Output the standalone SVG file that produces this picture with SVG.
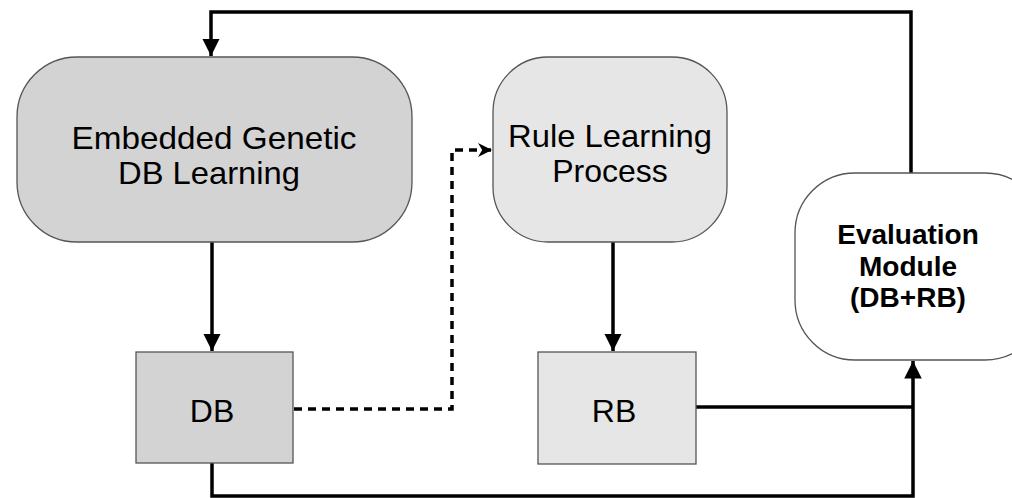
<svg xmlns="http://www.w3.org/2000/svg" width="1012" height="498" viewBox="0 0 1012 498">
<style>
.node{stroke:#555;stroke-width:1.3}
.t{font-family:"Liberation Sans",Arial,sans-serif;fill:#000;text-anchor:middle}
.c{fill:none;stroke:#000;stroke-width:3.5}
.d{fill:none;stroke:#000;stroke-width:3.5;stroke-dasharray:8,6}
</style>
<defs>
<marker id="ah" viewBox="0 0 10 10" refX="10" refY="5" markerWidth="5" markerHeight="5" markerUnits="strokeWidth" orient="auto">
<path d="M0,0 L10,5 L0,10 z" fill="#000"/>
</marker>
<marker id="ahs" viewBox="0 0 10 10" refX="10" refY="5" markerWidth="6" markerHeight="4" markerUnits="strokeWidth" orient="auto">
<path d="M0,0 L10,5 L0,10 L3,5 z" fill="#000"/>
</marker>
</defs>
<rect width="1012" height="498" fill="#fff"/>
<g id="connectors">
<path class="c" d="M911,173 V12 H211 V56" marker-end="url(#ah)"/>
<path class="c" d="M212,242 V351" marker-end="url(#ah)"/>
<path class="c" d="M613,242 V351" marker-end="url(#ah)"/>
<path class="c" d="M212,463 V496 H913 V361" marker-end="url(#ah)"/>
<path class="c" d="M696,407 H913"/>
<path class="d" d="M294,409 H452 V150 H492" marker-end="url(#ahs)"/>
</g>
<g id="embedded">
<rect class="node" x="17" y="57" width="395" height="185" rx="60" ry="60" fill="#d3d3d3"/>
<text class="t" x="214" y="149" font-size="32" textLength="285" lengthAdjust="spacingAndGlyphs">Embedded Genetic</text>
<text class="t" x="209" y="184" font-size="32" textLength="182" lengthAdjust="spacingAndGlyphs">DB Learning</text>
</g>
<g id="rule">
<rect class="node" x="493" y="57" width="234" height="185" rx="55" ry="55" fill="#e6e6e6"/>
<text class="t" x="610" y="147" font-size="32" textLength="204" lengthAdjust="spacingAndGlyphs">Rule Learning</text>
<text class="t" x="610" y="182" font-size="32">Process</text>
</g>
<g id="eval">
<rect class="node" x="795" y="173" width="250" height="187" rx="60" ry="60" fill="#fff"/>
<text class="t" x="908" y="244" font-size="28" font-weight="bold">Evaluation</text>
<text class="t" x="908" y="276" font-size="28" font-weight="bold">Module</text>
<text class="t" x="908" y="307" font-size="28" font-weight="bold">(DB+RB)</text>
</g>
<g id="db">
<rect class="node" x="136" y="352" width="157" height="111" fill="#d3d3d3"/>
<text class="t" x="212" y="422" font-size="32">DB</text>
</g>
<g id="rb">
<rect class="node" x="538" y="352" width="158" height="112" fill="#e6e6e6"/>
<text class="t" x="614" y="422" font-size="32">RB</text>
</g>
</svg>
